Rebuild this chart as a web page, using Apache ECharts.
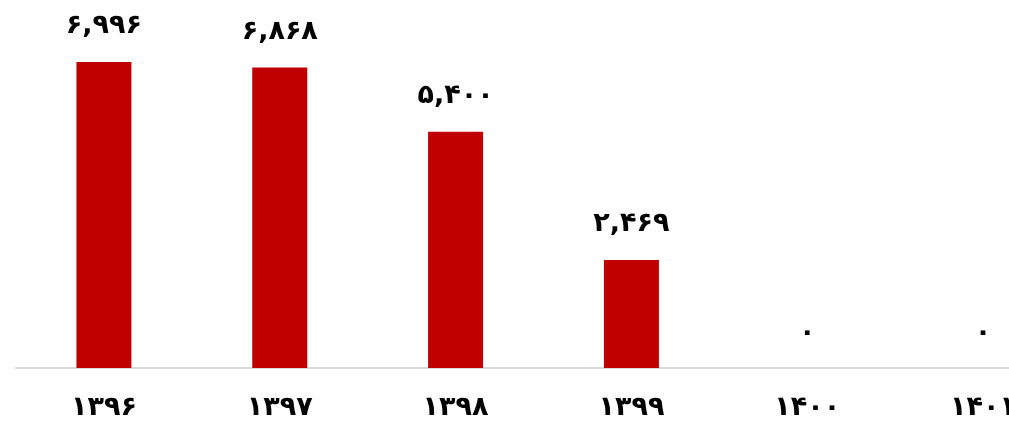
<!DOCTYPE html>
<html>
<head>
<meta charset="utf-8">
<script src="https://cdn.jsdelivr.net/npm/echarts@6/dist/echarts.min.js"></script>
<style>
html,body{margin:0;padding:0;background:#fff;overflow:hidden;width:1009px;height:426px;}
#c{width:1071px;height:426px;}
</style>
</head>
<body>
<div id="c"></div>
<script>
var categories = ['۱۳۹۶', '۱۳۹۷', '۱۳۹۸', '۱۳۹۹', '۱۴۰۰', '۱۴۰۱'];
var values = [6996, 6868, 5400, 2469, 0, 0];

function toPersian(n) {
  var s = String(n).replace(/\B(?=(\d{3})+(?!\d))/g, ',');
  var d = '۰۱۲۳۴۵۶۷۸۹';
  return s.replace(/[0-9]/g, function (c) { return d[+c]; });
}

var chart = echarts.init(document.getElementById('c'));
chart.setOption({
  animation: false,
  grid: { left: 16, right: 0, top: 18, bottom: 58 },
  xAxis: {
    type: 'category',
    data: categories,
    axisLine: { lineStyle: { color: '#d9d9d9', width: 2 } },
    axisTick: { show: false },
    axisLabel: {
      color: '#000',
      fontFamily: 'DejaVu Sans',
      fontWeight: 'bold',
      fontSize: 27,
      margin: 26
    }
  },
  yAxis: {
    type: 'value',
    min: 0,
    max: 8000,
    show: false,
    splitLine: { show: false }
  },
  series: [{
    type: 'bar',
    data: values,
    barWidth: 55,
    itemStyle: { color: '#C00000' },
    label: {
      show: true,
      position: 'top',
      distance: 22,
      color: '#000',
      fontFamily: 'DejaVu Sans',
      fontWeight: 'bold',
      fontSize: 27,
      formatter: function (p) { return toPersian(p.value); }
    }
  }]
});
</script>
</body>
</html>
